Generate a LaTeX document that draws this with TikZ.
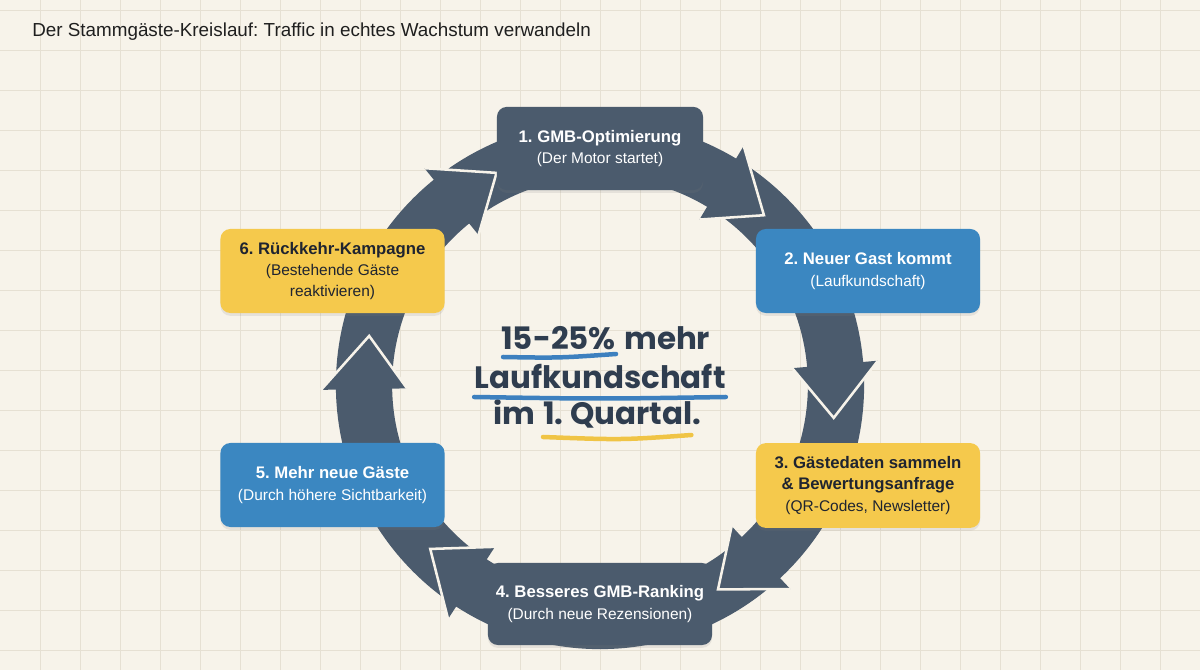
\documentclass[tikz,border=0pt]{standalone}
\usepackage{fontspec}
\setmainfont{Liberation Sans}
\newfontfamily\zahlfont{Poppins}
\usepackage{xcolor}
\usetikzlibrary{calc}
\usetikzlibrary{shadows}

\definecolor{papier}{HTML}{F7F3EA}
\definecolor{gitter}{HTML}{E6E0D3}
\definecolor{schiefer}{HTML}{4B5B6D}
\definecolor{blau}{HTML}{3B87C1}
\definecolor{gelb}{HTML}{F5C94C}
\definecolor{tinte}{HTML}{2F3D4F}
\definecolor{dunkeltext}{HTML}{1F2430}
\definecolor{strichblau}{HTML}{3D80BF}
\definecolor{strichgelb}{HTML}{F0C445}

\newcommand{\kopf}[1]{{\fontsize{11.9}{15}\selectfont\bfseries #1}}
\frenchspacing

\begin{document}
\begin{tikzpicture}[x=0.025cm, y=0.025cm,
    kasten/.style={rounded corners=7pt, minimum width=5.6cm, minimum height=2.1cm,
        align=center, inner sep=0pt, font=\fontsize{11}{15}\selectfont,
        drop shadow={opacity=0.15, shadow xshift=0pt, shadow yshift=-2pt}},
    dunkelkasten/.style={kasten, fill=schiefer, text=white},
    blaukasten/.style={kasten, fill=blau, text=white},
    gelbkasten/.style={kasten, fill=gelb, text=dunkeltext},
    ring/.style={schiefer},
    kante/.style={papier, line width=1.8pt, line join=miter},
    gross/.style={inner sep=0pt, text=tinte, font=\zahlfont\bfseries\fontsize{22}{26}\selectfont},
    pinsel/.style={line width=3.2pt, line cap=round}]
			\useasboundingbox (0,0) rectangle (1200,670);
			\fill[papier] (0,0) rectangle (1200,670);
			% gitter
			\foreach \gx in {40,80,...,1160} \draw[gitter, line width=0.6pt] (\gx,0) -- (\gx,670);
			\foreach \gy in {20,60,...,660} \draw[gitter, line width=0.6pt] (0,\gy) -- (1200,\gy);
			% kreislauf
			\coordinate (m) at (600,285);
			\draw[ring, line width=40pt] (m) circle [radius=236];
			\begin{scope}[shift={(m)}]
				\foreach \t in {46,-8,-60,-136,168,116} {
					\fill[ring] (\t+13:279) -- (\t:236) -- (\t+13:193) -- cycle;
					\draw[kante] (\t+13:279) -- (\t:236) -- (\t+13:193);
				}
			\end{scope}
			% kaesten
			\node[dunkelkasten, minimum width=5.15cm, minimum height=2.08cm] (gmb) at (600,521.5) {\kopf{1. GMB-Optimierung}\\(Der Motor startet)};
			\node[blaukasten] (gast) at (868,399) {\kopf{2. Neuer Gast kommt}\\(Laufkundschaft)};
			\node[gelbkasten, minimum height=2.12cm] (daten) at (868,184.5) {\kopf{3. Gästedaten sammeln}\\\kopf{\& Bewertungsanfrage}\\(QR-Codes, Newsletter)};
			\node[dunkelkasten, minimum height=2.05cm] (ranking) at (600,66) {\kopf{4. Besseres GMB-Ranking}\\(Durch neue Rezensionen)};
			\node[blaukasten] (neugaeste) at (332.5,185) {\kopf{5. Mehr neue Gäste}\\(Durch höhere Sichtbarkeit)};
			\node[gelbkasten] (rueckkehr) at (332.5,399) {\kopf{6. Rückkehr-Kampagne}\\(Bestehende Gäste\\reaktivieren)};
			% mitte
			\node[gross, anchor=base east] (zahl) at (616,320) {15-25\%};
			\node[gross, anchor=base west] (mehr) at (624,320) {mehr};
			\node[gross, anchor=base] (lauf) at (600,281) {Laufkundschaft};
			\node[gross, anchor=base east] (im) at (536,245) {im};
			\node[gross, anchor=base west] (quartal) at (543,245) {1. Quartal.};
			\draw[pinsel, strichblau] ($(zahl.base west)+(2,-7)$) .. controls ($(zahl.base)+(0,-8)$) .. ($(zahl.base east)+(0,-4)$);
			\draw[pinsel, strichblau] ($(lauf.base west)+(0,-8)$) .. controls ($(lauf.base)+(0,-10)$) .. ($(lauf.base east)+(0,-8)$);
			\draw[pinsel, strichgelb] ($(quartal.base west)+(0,-12)$) .. controls ($(quartal.base)+(0,-15)$) .. ($(quartal.base east)+(-10,-10)$);
			% titel
			\node[anchor=base west, inner sep=0pt, text=black!88, font=\fontsize{13.4}{16}\selectfont] (titel) at (32,633) {Der Stammgäste-Kreislauf: Traffic in echtes Wachstum verwandeln};
\end{tikzpicture}
\end{document}
